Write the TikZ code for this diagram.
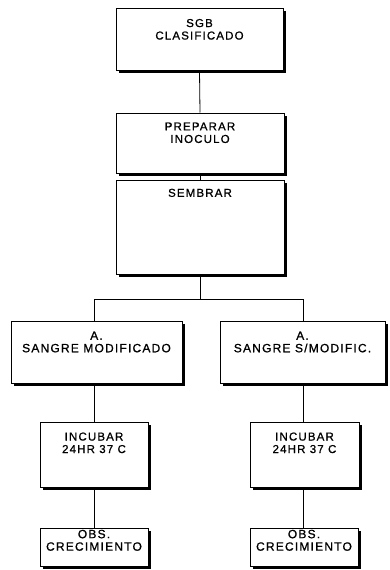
\documentclass[tikz,border=0pt]{standalone}
\usepackage{fontspec}
\setmainfont{Liberation Sans}[LetterSpace=10, FakeBold=0.9]
\usetikzlibrary{shadows}
\newcommand\boxtxt[5]{\parbox[c][#2pt][t]{#1pt}{\centering\fontsize{#5}{12.5}\selectfont\vspace*{#3pt}#4}}
\tikzset{
  box/.style={draw=black, line width=1pt, fill=white, inner sep=0pt, rectangle,
    drop shadow={shadow xshift=3pt, shadow yshift=-3pt, fill=black, opacity=1}},
  link/.style={draw=black, line width=0.8pt},
}
\begin{document}
\begin{tikzpicture}[x=1pt,y=-1pt]
\useasboundingbox (0,0) rectangle (389,570);
\node[box] (b1) at (199.5,39) {\boxtxt{167}{62}{11}{SGB\\CLASIFICADO}{11.5}};
\node[box] (b2) at (200,143) {\boxtxt{168}{60}{9.5}{PREPARAR\\INOCULO}{11.5}};
\node[box] (b3) at (200,227) {\boxtxt{168}{94}{8.8}{SEMBRAR}{11.5}};
\node[box] (b4) at (96.5,352) {\boxtxt{171}{62}{10.5}{A.\\SANGRE MODIFICADO}{12}};
\node[box] (b5) at (302.5,352) {\boxtxt{165}{62}{10.5}{A.\\SANGRE S/MODIFIC.}{12}};
\node[box] (b6) at (94,454.5) {\boxtxt{108}{65}{10.5}{INCUBAR\\24HR 37 C}{11.5}};
\node[box] (b7) at (304.5,454.5) {\boxtxt{109}{65}{10.5}{INCUBAR\\24HR 37 C}{11.5}};
\node[box] (b8) at (94,547) {\boxtxt{108}{38}{1.8}{OBS.\\CRECIMIENTO}{12}};
\node[box] (b9) at (304,547) {\boxtxt{108}{38}{1.8}{OBS.\\CRECIMIENTO}{12}};
\coordinate (jl) at (94,299);
\coordinate (jr) at (303,299);
\draw[link] (b1.south) -- (b2.north);
\draw[link] (b2.south) -- (b3.north);
\draw[link] (b3.south) -- (b3.south |- jl);
\draw[link] (jl) -- (jr);
\draw[link] (jl) -- (jl |- b4.north);
\draw[link] (jr) -- (jr |- b5.north);
\draw[link] (jl |- b4.south) -- (jl |- b6.north);
\draw[link] (jr |- b5.south) -- (jr |- b7.north);
\draw[link] (b6.south) -- (b8.north);
\draw[link] (jr |- b7.south) -- (jr |- b9.north);
\end{tikzpicture}
\end{document}
